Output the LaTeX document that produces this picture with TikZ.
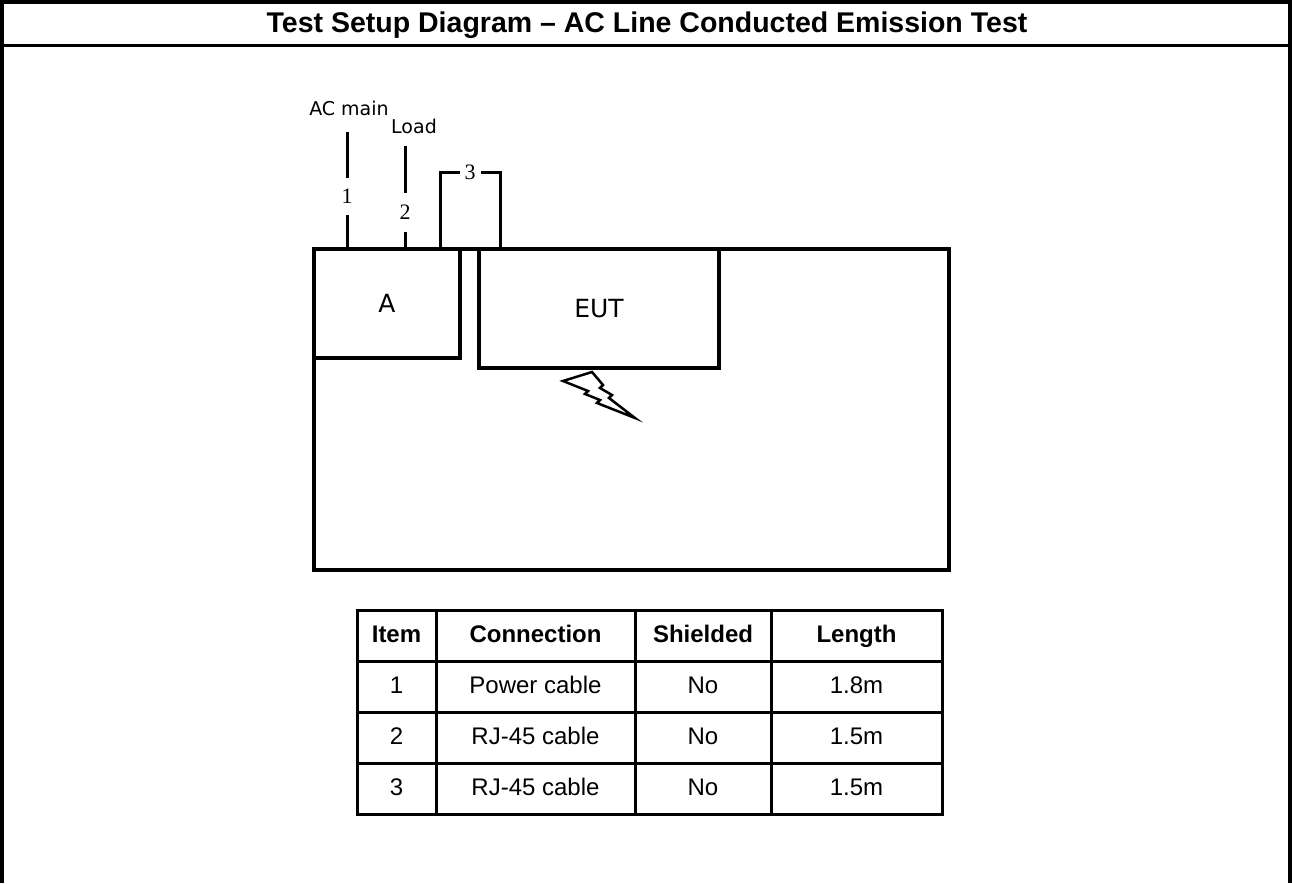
\documentclass[tikz,border=0pt]{standalone}
\usepackage{fontspec}
\setmainfont{Liberation Sans}
\newfontfamily\labelfont{DejaVu Sans}
\newfontfamily\numfont{Liberation Serif}
\usetikzlibrary{arrows,shapes,positioning}

\tikzset{
  box/.style={draw,line width=4pt,inner sep=0pt,anchor=north west,
              font=\labelfont\fontsize{25}{28}\selectfont},
  cable/.style={line width=3pt},
  num/.style={fill=white,inner sep=2pt,font=\numfont\fontsize{22}{24}\selectfont},
  cell/.style={draw,line width=3pt,minimum height=51pt,inner sep=0pt,
               text height=17pt,text depth=5pt,font=\fontsize{24}{28}\selectfont},
  head/.style={cell,font=\fontsize{24}{28}\selectfont\bfseries},
  tag/.style={inner sep=1pt,font=\labelfont\fontsize{19}{21}\selectfont}
}

\begin{document}
\begin{tikzpicture}[x=1pt,y=-1pt,line join=miter]
  \useasboundingbox (0,0) rectangle (1292,883);
  % frame and heading
  \draw[line width=4pt] (2,883) -- (2,2) -- (1290,2) -- (1290,883);
  \draw[line width=3pt] (2,46) -- (1290,46);
  \node[font=\fontsize{28.5}{31}\selectfont\bfseries] (title) at (647,25)
       {Test Setup Diagram -- AC Line Conducted Emission Test};

  % table and boxes on it
  \node[box,minimum width=635pt,minimum height=321pt] (bench) at (312,247) {};
  \node[box,minimum width=146pt,minimum height=109pt] (A) at (312,247) {A};
  \node[box,minimum width=240pt,minimum height=119pt] (EUT) at (477,247) {EUT};

  % cable ends
  \coordinate (c1) at (347,247);
  \coordinate (c2) at (405,247);
  \coordinate (c3a) at (440,247);
  \coordinate (c3b) at (500,247);
  \coordinate (t1) at (347,132);
  \coordinate (t2) at (405,146);
  \node[tag,anchor=base] (acmain) at (349,115) {AC main};
  \node[tag,anchor=base] (load) at (414,133) {Load};

  \draw[cable] (c1) -- node[num,pos=0.44,inner ysep=11pt] {1} (t1);
  \draw[cable] (c2) -- node[num,pos=0.34,inner ysep=12pt] {2} (t2);
  \draw[cable] (c3a) -- (c3a |- 0,172) -- node[num,inner xsep=5pt] {3} (c3b |- 0,172) -- (c3b);

  % lightning
  \draw[line width=2.5pt] (563,381) -- (592,372) -- (603,385) -- (600,388)
       -- (612,395) -- (609,398) -- (635,418) -- (597,403) -- (600,400)
       -- (585,394) -- (588,391) -- cycle;

  % cable list
  \node[head,minimum width=79pt] (hItem) at (396.5,636) {Item};
  \node[head,minimum width=199pt] (hConn) at (535.5,636) {Connection};
  \node[head,minimum width=136pt] (hShld) at (703,636) {Shielded};
  \node[head,minimum width=171pt] (hLen) at (856.5,636) {Length};
  \foreach \n/\c/\s/\l [count=\i] in {1/Power cable/No/1.8m, 2/RJ-45 cable/No/1.5m, 3/RJ-45 cable/No/1.5m}{
    \pgfmathsetmacro\yy{636+51*\i}
    \node[cell,minimum width=79pt] (item\i) at (396.5,\yy) {\n};
    \node[cell,minimum width=199pt] (conn\i) at (535.5,\yy) {\c};
    \node[cell,minimum width=136pt] (shld\i) at (703,\yy) {\s};
    \node[cell,minimum width=171pt] (len\i) at (856.5,\yy) {\l};
  }
\end{tikzpicture}
\end{document}
